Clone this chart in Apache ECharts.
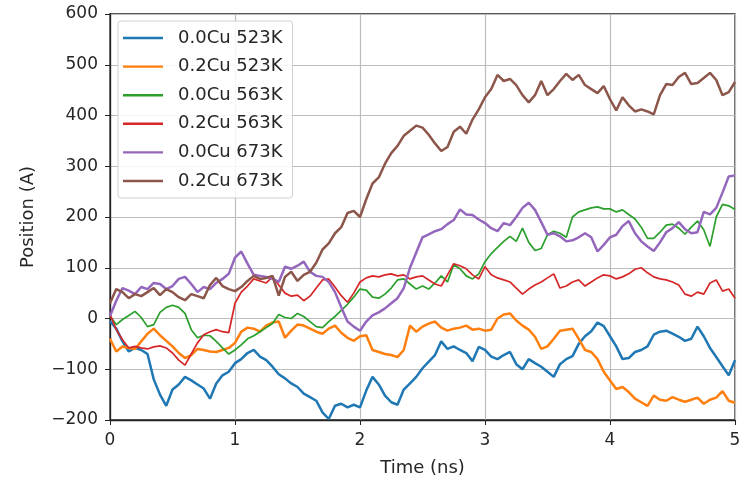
<!DOCTYPE html>
<html>
<head>
<meta charset="utf-8">
<script src="https://cdn.jsdelivr.net/npm/echarts@6/dist/echarts.min.js"></script>
<style>html,body{margin:0;padding:0;background:#fff}#c{width:750px;height:482px}</style>
</head>
<body>
<div id="c"></div>
<script>
const seriesNames = ['0.0Cu 523K','0.2Cu 523K','0.0Cu 563K','0.2Cu 563K','0.0Cu 673K','0.2Cu 673K'];
const colors = ['#1f77b4','#ff7f0e','#2ca02c','#d62728','#9467bd','#8c564b'];
const xTicks = [0,1,2,3,4,5];
const yTicks = [-200,-100,0,100,200,300,400,500,600];
const times = [0.00,0.05,0.10,0.15,0.20,0.25,0.30,0.35,0.40,0.45,0.50,0.55,0.60,0.65,0.70,0.75,0.80,0.85,0.90,0.95,
1.00,1.05,1.10,1.15,1.20,1.25,1.30,1.35,1.40,1.45,1.50,1.55,1.60,1.65,1.70,1.75,1.80,1.85,1.90,1.95,
2.00,2.05,2.10,2.15,2.20,2.25,2.30,2.35,2.40,2.45,2.50,2.55,2.60,2.65,2.70,2.75,2.80,2.85,2.90,2.95,
3.00,3.05,3.10,3.15,3.20,3.25,3.30,3.35,3.40,3.45,3.50,3.55,3.60,3.65,3.70,3.75,3.80,3.85,3.90,3.95,
4.00,4.05,4.10,4.15,4.20,4.25,4.30,4.35,4.40,4.45,4.50,4.55,4.60,4.65,4.70,4.75,4.80,4.85,4.90,4.95,5.00];
const cu00_523 = [-5,-20,-45,-65,-58,-62,-70,-120,-150,-172,-140,-130,-115,-122,-130,-138,-158,-128,-112,-105,
-88,-80,-68,-62,-75,-82,-95,-110,-118,-128,-135,-148,-155,-162,-185,-198,-172,-168,-175,-170,
-175,-142,-115,-130,-152,-165,-170,-140,-128,-115,-98,-85,-72,-45,-60,-55,-62,-68,-84,-56,
-62,-75,-80,-72,-66,-90,-100,-80,-88,-95,-105,-115,-90,-80,-74,-50,-35,-25,-8,-15,
-35,-55,-80,-78,-66,-62,-55,-32,-26,-24,-30,-36,-44,-40,-16,-35,-58,-76,-94,-112,-82];
const cu02_523 = [-40,-65,-55,-58,-60,-45,-30,-20,-33,-44,-55,-68,-78,-72,-60,-62,-65,-66,-62,-58,
-48,-26,-18,-20,-26,-14,-8,-6,-38,-24,-12,-14,-20,-26,-30,-20,-14,-28,-38,-44,
-35,-33,-62,-66,-70,-72,-76,-62,-14,-26,-16,-10,-6,-18,-24,-20,-18,-14,-22,-20,
-24,-22,0,8,10,-4,-14,-22,-36,-60,-55,-40,-24,-22,-20,-40,-62,-66,-80,-105,
-122,-139,-135,-145,-158,-165,-172,-152,-160,-162,-155,-160,-164,-160,-156,-168,-160,-156,-143,-162,-166];
const cu00_563 = [5,-12,-2,6,14,2,-16,-12,12,22,26,22,10,-22,-38,-33,-34,-45,-58,-70,
-62,-52,-40,-34,-26,-18,-10,8,2,0,10,4,-6,-16,-18,-6,4,16,28,42,
58,56,42,40,48,60,76,78,68,58,64,58,70,84,72,106,98,84,78,88,
112,128,140,152,162,152,178,150,134,138,165,172,168,160,200,210,214,218,220,216,
216,210,214,205,196,180,158,158,170,184,186,178,166,180,192,175,142,200,225,222,215];
const cu02_563 = [8,-22,-42,-58,-55,-58,-60,-56,-54,-58,-68,-82,-92,-70,-48,-32,-26,-22,-26,-28,
30,52,64,78,74,70,82,66,50,44,46,35,44,60,76,78,62,45,32,50,
72,80,84,82,86,88,84,86,78,82,84,76,68,64,86,108,104,98,86,78,
102,86,80,76,72,60,48,58,66,72,80,88,60,64,72,76,64,72,80,86,
84,78,82,88,97,100,90,82,78,76,72,66,48,44,52,48,70,76,54,58,40];
const cu00_673 = [5,35,60,55,48,62,58,70,68,58,64,78,82,68,52,62,58,70,78,88,
120,132,108,86,84,82,78,72,102,98,104,112,92,84,82,72,52,22,-6,-16,
-24,-6,6,12,20,30,40,60,100,130,160,166,172,176,186,194,215,205,204,195,
188,178,172,188,184,200,218,228,214,190,165,168,162,152,154,160,168,160,132,145,
160,165,182,192,168,152,142,133,150,170,178,190,176,168,170,210,205,218,248,280,282];
const cu02_673 = [30,58,52,40,48,44,52,60,46,58,52,42,36,48,44,40,66,80,64,58,
54,62,74,84,78,80,84,45,82,92,74,86,92,110,136,148,168,180,208,212,
200,235,266,278,305,326,340,360,370,380,376,362,345,330,338,368,378,364,392,412,
436,452,480,468,472,460,440,426,440,468,440,452,468,482,470,480,460,452,444,458,
432,410,436,420,408,412,408,402,440,462,460,476,484,462,464,474,484,470,440,446,466];
const allValues = [cu00_523, cu02_523, cu00_563, cu02_563, cu00_673, cu02_673];
const widths = [2.5, 2.5, 1.7, 1.7, 2.5, 2.5];

const chart = echarts.init(document.getElementById('c'), null, {renderer: 'canvas'});
const font = 'DejaVu Sans';
const minus = v => String(v).replace('-', '\u2212');
chart.setOption({
  animation: false,
  backgroundColor: '#fff',
  color: colors,
  grid: {left: 110, right: 15, top: 14, bottom: 61, show: true, borderColor: '#222', borderWidth: 1.3},
  legend: {
    orient: 'vertical', left: 118, top: 21,
    itemWidth: 40, itemHeight: 14, itemGap: 10.6,
    padding: [8, 10, 8, 5],
    backgroundColor: 'rgba(255,255,255,0.85)',
    borderColor: '#d0d0d0', borderWidth: 1, borderRadius: 3,
    textStyle: {fontFamily: font, fontSize: 18, color: '#262626', padding: [0, 0, 0, 10]},
    data: seriesNames.map(n => ({name: n, icon: 'path://M0,0 L40,0 L40,2.4 L0,2.4 Z'}))
  },
  xAxis: {
    type: 'value', min: 0, max: 5, interval: 1,
    name: 'Time (ns)', nameLocation: 'middle', nameGap: 39,
    nameTextStyle: {fontFamily: font, fontSize: 18, color: '#262626'},
    axisLine: {show: true, onZero: false, lineStyle: {color: '#222', width: 1.3}},
    axisTick: {show: true, length: 5, lineStyle: {color: '#222'}},
    axisLabel: {fontFamily: font, fontSize: 17, color: '#262626', margin: 12, formatter: v => minus(v)},
    splitLine: {show: true, lineStyle: {color: '#bdbdbd', width: 1.2}}
  },
  yAxis: {
    type: 'value', min: -200, max: 600, interval: 100,
    name: 'Position (A)', nameLocation: 'middle', nameGap: 73,
    nameTextStyle: {fontFamily: font, fontSize: 18, color: '#262626'},
    axisLine: {show: true, onZero: false, lineStyle: {color: '#222', width: 1.3}},
    axisTick: {show: true, length: 5, lineStyle: {color: '#222'}},
    axisLabel: {fontFamily: font, fontSize: 17, color: '#262626', margin: 12, formatter: v => minus(v)},
    splitLine: {show: true, lineStyle: {color: '#bdbdbd', width: 1.2}}
  },
  series: seriesNames.map((n, i) => ({
    name: n, type: 'line', symbol: 'none', showSymbol: false,
    lineStyle: {width: widths[i], color: colors[i]},
    itemStyle: {color: colors[i]},
    data: times.map((t, k) => [t, allValues[i][k]])
  }))
});
</script>
</body>
</html>
